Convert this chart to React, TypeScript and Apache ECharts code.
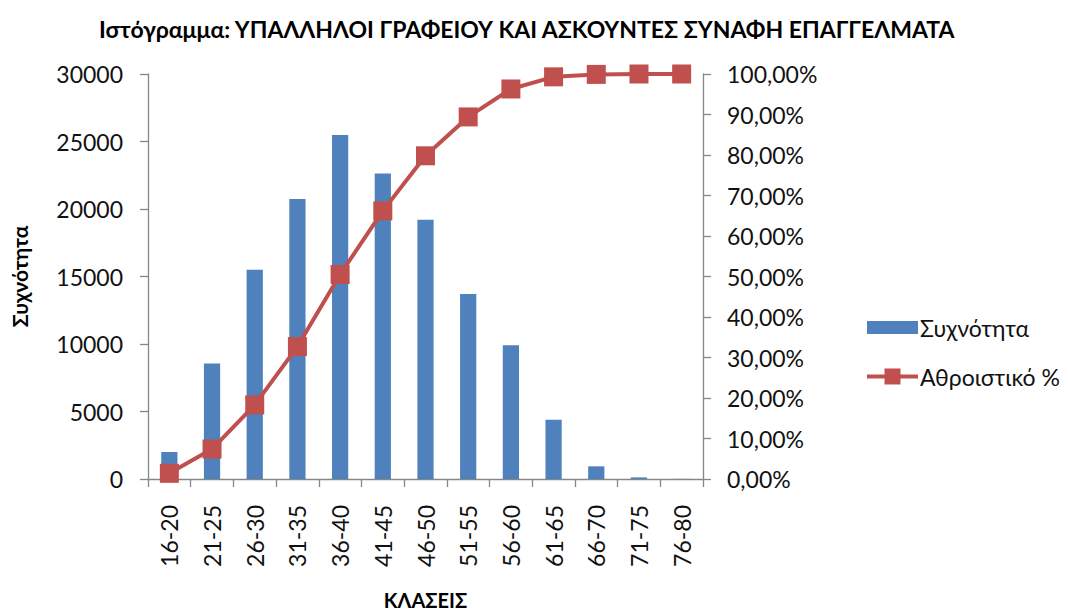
import React, { useEffect, useRef } from "react";
import * as echarts from "echarts";

const categories = ["16-20", "21-25", "26-30", "31-35", "36-40", "41-45", "46-50", "51-55", "56-60", "61-65", "66-70", "71-75", "76-80"];
const frequency = [2000, 8550, 15500, 20750, 25480, 22630, 19200, 13700, 9900, 4380, 940, 120, 10];
const cumulativePct = [1.4, 7.4, 18.3, 32.7, 50.5, 66.2, 79.8, 89.4, 96.3, 99.3, 99.9, 100, 100];

const titleText = "Ιστόγραμμα: ΥΠΑΛΛΗΛΟΙ ΓΡΑΦΕΙΟΥ ΚΑΙ ΑΣΚΟΥΝΤΕΣ ΣΥΝΑΦΗ ΕΠΑΓΓΕΛΜΑΤΑ";
const xName = "ΚΛΑΣΕΙΣ";
const yName = "Συχνότητα";
const seriesNames = ["Συχνότητα", "Αθροιστικό %"];

const FONT = "Lato, 'Open Sans', sans-serif";
const AXIS = "#868686";
const LABEL_SIZE = 23;

const barIcon = "path://M0,0 L0,0 L0.01,0 Z M0,16 L0,16 L0.01,16 Z M0,1.5 L51,1.5 L51,14.5 L0,14.5 Z";
const lineIcon = "path://M0,6 L17.5,6 L17.5,0 L33.5,0 L33.5,6 L51,6 L51,10 L33.5,10 L33.5,16 L17.5,16 L17.5,10 L0,10 Z";

export default function App() {
  const ref = useRef<HTMLDivElement>(null);
  useEffect(() => {
    if (!ref.current) return;
    const chart = echarts.init(ref.current, null, { renderer: "svg" });
    chart.setOption({
      animation: false,
      backgroundColor: "#ffffff",
      textStyle: { fontFamily: FONT },
      title: {
        text: titleText,
        left: 94,
        top: 12,
        textStyle: { fontFamily: FONT, fontWeight: "bold", fontSize: 23, color: "#000" },
      },
      legend: {
        orient: "vertical",
        left: 862,
        top: 311,
        itemWidth: 51,
        itemHeight: 16,
        itemGap: 26,
        textStyle: { fontFamily: FONT, fontSize: LABEL_SIZE, color: "#111", lineHeight: 23, padding: [0, 0, 0, -3] },
        data: [
          { name: seriesNames[0], icon: barIcon },
          { name: seriesNames[1], icon: lineIcon },
        ],
      },
      grid: { left: 148, right: 365, top: 74, bottom: 133, containLabel: false, outerBoundsMode: "none" },
      xAxis: {
        type: "category",
        data: categories,
        boundaryGap: true,
        name: xName,
        nameLocation: "middle",
        nameGap: 111,
        nameTextStyle: { fontFamily: FONT, fontWeight: "bold", fontSize: 20, lineHeight: 20, color: "#000" },
        axisLine: { lineStyle: { color: AXIS, width: 1.3 } },
        axisTick: { show: true, length: 8, lineStyle: { color: AXIS, width: 1.3 } },
        axisLabel: { rotate: 90, margin: 26, fontSize: LABEL_SIZE, color: "#111", fontFamily: FONT, interval: 0 },
        splitLine: { show: false },
      },
      yAxis: [
        {
          type: "value",
          min: 0,
          max: 30000,
          interval: 5000,
          name: yName,
          nameLocation: "middle",
          nameGap: 118,
          nameTextStyle: { fontFamily: FONT, fontWeight: "bold", fontSize: 21, color: "#000" },
          axisLine: { show: true, lineStyle: { color: AXIS, width: 1.3 } },
          axisTick: { show: true, length: 8, lineStyle: { color: AXIS, width: 1.3 } },
          axisLabel: { margin: 25, fontSize: LABEL_SIZE, color: "#111", fontFamily: FONT, formatter: (v: number) => String(v) },
          splitLine: { show: false },
        },
        {
          type: "value",
          min: 0,
          max: 100,
          interval: 10,
          position: "right",
          axisLine: { show: true, lineStyle: { color: AXIS, width: 1.3 } },
          axisTick: { show: true, length: 8, lineStyle: { color: AXIS, width: 1.3 } },
          axisLabel: {
            margin: 24,
            fontSize: LABEL_SIZE,
            color: "#111",
            fontFamily: FONT,
            formatter: (v: number) => v.toFixed(2).replace(".", ",") + "%",
          },
          splitLine: { show: false },
        },
      ],
      series: [
        {
          name: seriesNames[0],
          type: "bar",
          data: frequency,
          barWidth: "38%",
          itemStyle: { color: "#4F81BD" },
        },
        {
          name: seriesNames[1],
          type: "line",
          yAxisIndex: 1,
          data: cumulativePct,
          symbol: "rect",
          symbolSize: 19,
          lineStyle: { color: "#C0504D", width: 4 },
          itemStyle: { color: "#C0504D" },
        },
      ],
    });
    return () => chart.dispose();
  }, []);
  return <div ref={ref} style={{ width: 1068, height: 612, position: "absolute", left: 0, top: 0 }} />;
}
